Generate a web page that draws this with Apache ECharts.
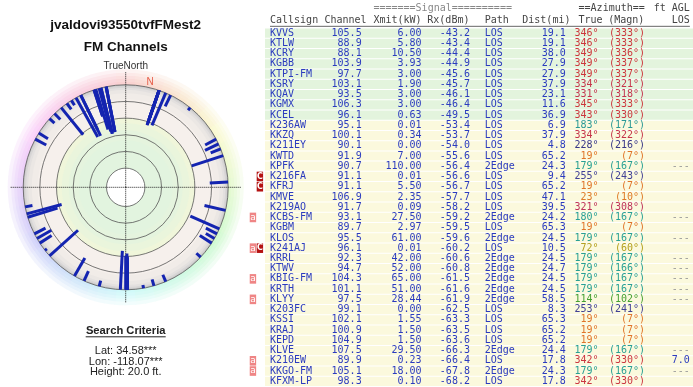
<!DOCTYPE html>
<html><head><meta charset="utf-8">
<script src="https://cdn.jsdelivr.net/npm/echarts@6/dist/echarts.min.js"></script>
<style>html,body{margin:0;padding:0;background:#fff}#c{width:693px;height:387px}</style>
</head><body><div id="c"></div>
<script>
// ---------------- data ----------------
const callsigns = ['KVVS','KTLW','KCRY','KGBB','KTPI-FM','KSRY','KQAV','KGMX','KCEL','K236AW','KKZQ','K211EY','KWTD','KPFK','K216FA','KFRJ','KMVE','K219AO','KCBS-FM','KGBM','KLOS','K241AJ','KRRL','KTWV','KBIG-FM','KRTH','KLYY','K203FC','KSSI','KRAJ','KEPD','KLVE','K210EW','KKGO-FM','KFXM-LP'];
const channels = [105.5,88.9,88.1,103.9,97.7,103.1,93.5,106.3,96.1,95.1,100.1,90.1,91.9,90.7,91.1,91.1,106.9,91.7,93.1,89.7,95.5,96.1,92.3,94.7,104.3,101.1,97.5,99.1,102.1,100.9,104.9,107.5,89.9,105.1,98.3];
const xmitKW = [6.00,5.80,10.50,3.93,3.00,1.90,3.00,3.00,0.63,0.01,0.34,0.00,7.00,110.00,0.01,5.50,2.35,0.09,27.50,2.97,61.00,0.01,42.00,52.00,65.00,51.00,28.44,0.00,1.55,1.50,1.50,29.50,0.23,18.00,0.10];
const rxDbm = [-43.2,-43.4,-44.4,-44.9,-45.6,-45.7,-46.1,-46.4,-49.5,-53.4,-53.7,-54.0,-55.6,-56.4,-56.6,-56.7,-57.7,-58.2,-59.2,-59.5,-59.6,-60.2,-60.6,-60.8,-61.5,-61.6,-61.9,-62.5,-63.3,-63.5,-63.6,-66.3,-66.4,-67.8,-68.2];
const paths = ['LOS','LOS','LOS','LOS','LOS','LOS','LOS','LOS','LOS','LOS','LOS','LOS','LOS','2Edge','LOS','LOS','LOS','LOS','2Edge','LOS','2Edge','LOS','2Edge','2Edge','2Edge','2Edge','2Edge','LOS','LOS','LOS','LOS','2Edge','LOS','2Edge','LOS'];
const distMi = [19.1,19.1,38.0,27.9,27.9,37.9,23.1,11.6,36.9,6.9,37.9,4.8,65.2,24.3,9.4,65.2,47.1,39.5,24.2,65.3,24.5,10.5,24.5,24.7,24.5,24.5,58.5,8.3,65.3,65.2,65.2,24.4,17.8,24.3,17.8];
const azTrue = [346,346,349,349,349,334,331,345,343,183,334,228,19,179,255,19,23,321,180,19,179,72,179,179,179,179,114,253,19,19,19,179,342,179,342];
const azMagn = [333,333,336,337,337,321,318,333,330,171,322,216,7,167,243,7,10,308,167,7,167,60,167,166,167,167,102,241,7,7,7,167,330,167,330];
const losAgl = ['','','','','','','','','','','','','','---','','','','','---','','---','','---','---','---','---','---','','','','','---','7.0','---',''];
const notes = ['','','','','','','','','','','','','','','C','C','','','a','','','aC','','','a','','a','','','','','','a','a',''];
// weaker stations drawn on the polar plot but below the visible table rows
const extraAz = [26,39,62,65,68,87,103,117,120,123,133,157,164,170,195,204,210,232,237,240,243,259,298,302,312,316,325,328];
const extraRx = [-85,-96,-85,-82,-87,-78,-74,-85,-88,-83,-93,-91,-92,-96,-93,-87,-75,-97,-83,-80,-85,-91,-85,-87,-92,-90,-91,-93];
const ringTicks = [0,20,40,60,80,100];           // dB below 0 dBm
const titleText = 'jvaldovi93550tvfFMest2';
const subtitleText = 'FM Channels';
const criteriaTitle = 'Search Criteria';
const criteriaLines = ['Lat: 34.58***','Lon: -118.07***','Height: 20.0 ft.'];
const declination = azTrue[0] - azMagn[0];

// ---------------- layout / style ----------------
const CX = 125.7, CY = 187.3;
const R_IN = 19.2, R_OUT = 102.5, R_MID = 69.2, R_CROSS = 115, R_HALO = 118;
const CHAR = 6.05, TABLE_LEFT = 265, TEXT_LEFT = 270;
const FONT = '10px "DejaVu Sans Mono"';
const BLUE = '#2b3bbf';
const HEAD = '#444';
const cols = {call:0, chan:15.15, xmit:25.05, rx:33.05, path:35.5, dist:48.9, tru:54.3, magn:62.0, los:69.4};

function lerpColor(stops, v){
  for (let k=0;k<stops.length-1;k++){
    const a=stops[k], b=stops[k+1];
    if (v>=a[0] && v<=b[0]){
      const t=(v-a[0])/(b[0]-a[0]||1);
      const c=a[1].map((x,j)=>Math.round(x+(b[1][j]-x)*t));
      return 'rgb('+c.join(',')+')';
    }
  }
  return 'rgb('+stops[0][1].join(',')+')';
}
const azStops = [[0,[205,55,60]],[20,[225,120,40]],[72,[180,160,30]],[114,[70,160,50]],[180,[40,160,150]],[228,[55,55,135]],[255,[65,65,150]],[321,[190,50,90]],[345,[205,55,60]],[360,[205,55,60]]];
const azColor = a => lerpColor(azStops, a);

const allAz = azTrue.concat(extraAz);
const allRx = rxDbm.concat(extraRx);

// ---------------- background (one ordered group) ----------------
function renderBg(params, api){
  const cs = params.coordSys, cx = cs.cx, cy = cs.cy;
  const ch = [];
  const rad = a => (a - 90) * Math.PI / 180;
  const N = 72, step = 360 / N;
  for (let k=0;k<N;k++){
    const h = Math.round((k+0.5)*step);
    ch.push({type:'sector', shape:{cx, cy, r0:R_OUT-1, r:R_HALO, startAngle:rad(k*step), endAngle:rad((k+1)*step+0.6), clockwise:true},
      style:{fill:`hsl(${h},80%,90%)`, stroke:null}});
  }
  [[R_OUT+3,0.15],[R_OUT+6,0.2],[R_OUT+9,0.3],[R_OUT+12,0.45]].forEach(s =>
    ch.push({type:'ring', shape:{cx, cy, r:R_HALO+1, r0:s[0]}, style:{fill:'#ffffff', opacity:s[1], stroke:null}}));
  [[R_OUT,'#cacaca'],[101.2,'#d8d6d6'],[99.6,'#e3e0df'],[97.5,'#ebe7e4'],[94,'#f1ece8'],[88,'#f6f0ec']]
    .forEach(s => ch.push({type:'circle', shape:{cx, cy, r:s[0]}, style:{fill:s[1], stroke:null}}));
  [[R_MID,'#f0f6da'],[64,'#eaf5dc'],[57,'#e5f4de'],[47,'#e2f4df'],[R_IN,'#ffffff']]
    .forEach(s => ch.push({type:'circle', shape:{cx, cy, r:s[0]}, style:{fill:s[1], stroke:null}}));
  return {type:'group', children:ch};
}

// ---------------- chart ----------------
const chart = echarts.init(document.getElementById('c'), null, {renderer:'canvas'});

function renderBar(params, api){
  const v = api.value(0), az = api.value(1);
  const p0 = api.coord([v, az]), p1 = api.coord([100, az]);
  return {type:'line', shape:{x1:p0[0],y1:p0[1],x2:p1[0],y2:p1[1]},
    style:{stroke:'#1424b0', lineWidth:3, lineCap:'butt', fill:null}};
}

function txt(children, text, x, y, align, fill, font){
  children.push({type:'text', x:x, y:y, style:{text:text, x:0, y:0, fill:fill, font:font||FONT,
    textAlign:align, align:align, textVerticalAlign:'middle', verticalAlign:'middle'}});
}

function renderRow(params, api){
  const i = params.dataIndex;
  const yc = api.coord([0, i])[1];
  const h = api.size([0, 1])[1];
  const cs = params.coordSys;
  const X = c => api.coord([c, i])[0];
  const ch = [];
  ch.push({type:'rect', shape:{x:cs.x, y:yc-h/2+0.5, width:cs.width, height:h-1},
    style:{fill: rxDbm[i] > -50 ? '#e3f4dd' : '#fbf9dd'}});
  txt(ch, callsigns[i], X(cols.call), yc, 'left', BLUE);
  txt(ch, channels[i].toFixed(1), X(cols.chan), yc, 'right', BLUE);
  txt(ch, xmitKW[i].toFixed(2), X(cols.xmit), yc, 'right', BLUE);
  txt(ch, rxDbm[i].toFixed(1), X(cols.rx), yc, 'right', BLUE);
  txt(ch, paths[i], X(cols.path), yc, 'left', BLUE);
  txt(ch, distMi[i].toFixed(1), X(cols.dist), yc, 'right', BLUE);
  const ac = azColor(azTrue[i]);
  txt(ch, azTrue[i]+'°', X(cols.tru), yc, 'right', ac);
  txt(ch, '('+azMagn[i]+'°)', X(cols.magn), yc, 'right', ac);
  if (losAgl[i]) txt(ch, losAgl[i], X(cols.los), yc, 'right', losAgl[i]==='---' ? '#999' : BLUE);
  const n = notes[i];
  if (n.indexOf('a')>=0){
    const x0 = X(-3.35);
    ch.push({type:'rect', shape:{x:x0, y:yc-4.8, width:6.4, height:9.6}, style:{fill:'#ef8585'}});
    txt(ch, 'a', x0+3.2, yc, 'center', '#fff', '9px "DejaVu Sans"');
  }
  if (n.indexOf('C')>=0){
    const x0 = X(-2.2);
    ch.push({type:'rect', shape:{x:x0, y:yc-4.8, width:6.4, height:9.6}, style:{fill:'#b41212'}});
    txt(ch, 'C', x0+3.2, yc, 'center', '#fff', 'bold 8px "DejaVu Sans"');
  }
  if (i === 0){
    const y2 = yc - 12.4, y1 = yc - 24.8;
    txt(ch, '=======Signal==========', X(17.1), y1, 'left', '#888');
    txt(ch, '==Azimuth==', X(51.0), y1, 'left', HEAD);
    txt(ch, 'ft AGL', X(cols.los), y1, 'right', HEAD);
    txt(ch, 'Callsign', X(0), y2, 'left', HEAD);
    txt(ch, 'Channel', X(9), y2, 'left', HEAD);
    txt(ch, 'Xmit(kW)', X(17.1), y2, 'left', HEAD);
    txt(ch, 'Rx(dBm)', X(26), y2, 'left', HEAD);
    txt(ch, 'Path', X(35.5), y2, 'left', HEAD);
    txt(ch, 'Dist(mi)', X(41.7), y2, 'left', HEAD);
    txt(ch, 'True', X(51.0), y2, 'left', HEAD);
    txt(ch, '(Magn)', X(55.9), y2, 'left', HEAD);
    txt(ch, 'LOS', X(cols.los), y2, 'right', HEAD);
    ch.push({type:'line', shape:{x1:X(0), y1:y2+5.6, x2:X(cols.los), y2:y2+5.6}, style:{stroke:'#666', lineWidth:1}});
  }
  return {type:'group', children:ch};
}

const hiddenAxis = {axisLine:{show:false}, axisTick:{show:false}, axisLabel:{show:false}, splitLine:{show:false}, splitArea:{show:false}, minorTick:{show:false}, minorSplitLine:{show:false}};
const option = {
  animation:false,
  backgroundColor:'#fff',
  polar:[
    {center:[CX,CY], radius:[R_IN, R_OUT]},
    {center:[CX,CY], radius:[0, R_CROSS]}
  ],
  radiusAxis:[
    Object.assign({}, hiddenAxis, {polarIndex:0, min:ringTicks[0], max:ringTicks[ringTicks.length-1], interval:20, z:3,
     splitLine:{show:true, lineStyle:{color:'#555', width:0.8}}}),
    Object.assign({}, hiddenAxis, {polarIndex:1, min:0, max:R_CROSS, z:3})
  ],
  angleAxis:[
    Object.assign({}, hiddenAxis, {polarIndex:0, min:0, max:360, startAngle:90, clockwise:true, z:3}),
    Object.assign({}, hiddenAxis, {polarIndex:1, min:0, max:360, interval:90, startAngle:90, clockwise:true, z:3,
     axisLabel:{show:true, margin:1, fontSize:10, color:'#333', fontFamily:'Liberation Sans',
       formatter: v => v === 0 ? 'TrueNorth' : ''},
     splitLine:{show:true, lineStyle:{color:'#222', width:1, type:[1,1]}}})
  ],
  grid:{left:TABLE_LEFT, width:693-TABLE_LEFT, top:28, height:35*10.24},
  xAxis:{type:'value', min:(TABLE_LEFT-TEXT_LEFT)/CHAR, max:(693-TEXT_LEFT)/CHAR, show:false},
  yAxis:{type:'category', data:callsigns, inverse:true, show:false},
  series:[
    {type:'custom', coordinateSystem:'polar', polarIndex:1, z:1, silent:true,
     renderItem:renderBg, data:[[0,0]]},
    {type:'custom', coordinateSystem:'polar', polarIndex:0, z:5, silent:true,
     encode:{radius:0, angle:1}, renderItem:renderBar,
     data: allRx.map((r,i)=>[-r, allAz[i]])},
    {type:'scatter', coordinateSystem:'polar', polarIndex:1, z:6, silent:true, symbolSize:0,
     data:[[108, declination]],
     label:{show:true, formatter:'N', position:'inside', color:'#e03a20', fontSize:10, fontFamily:'Liberation Sans'}},
    {type:'custom', coordinateSystem:'cartesian2d', z:4, silent:true, clip:false,
     encode:{x:0, y:1}, renderItem:renderRow,
     data: callsigns.map((c,i)=>[0, i])}
  ],
  graphic:[
    {type:'text', x:CX, y:25, style:{text:titleText, textAlign:'center', textVerticalAlign:'middle', font:'bold 13.5px "Liberation Sans"', fill:'#111'}},
    {type:'text', x:CX, y:47, style:{text:subtitleText, textAlign:'center', textVerticalAlign:'middle', font:'bold 13.5px "Liberation Sans"', fill:'#111'}},
    {type:'text', x:CX, y:331, style:{text:criteriaTitle, textAlign:'center', textVerticalAlign:'middle', font:'bold 11.2px "Liberation Sans"', fill:'#222'}},
    {type:'line', shape:{x1:CX-40, y1:336.8, x2:CX+40, y2:336.8}, style:{stroke:'#222', lineWidth:1}},
    {type:'text', x:CX, y:350.8, style:{text:criteriaLines[0], textAlign:'center', textVerticalAlign:'middle', font:'11px "Liberation Sans"', fill:'#222'}},
    {type:'text', x:CX, y:361.6, style:{text:criteriaLines[1], textAlign:'center', textVerticalAlign:'middle', font:'11px "Liberation Sans"', fill:'#222'}},
    {type:'text', x:CX, y:372.4, style:{text:criteriaLines[2], textAlign:'center', textVerticalAlign:'middle', font:'11px "Liberation Sans"', fill:'#222'}}
  ]
};
chart.setOption(option);
</script></body></html>
